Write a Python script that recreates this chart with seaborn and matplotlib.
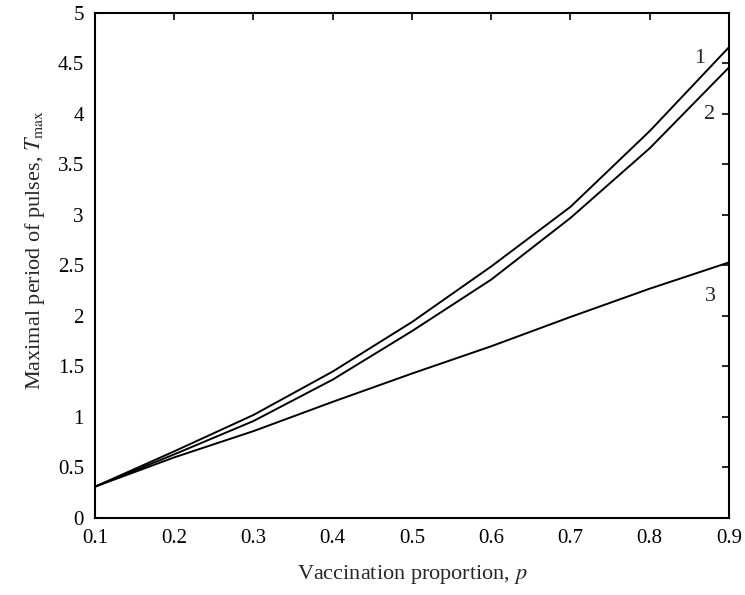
import matplotlib
matplotlib.use("Agg")
import matplotlib.pyplot as plt
import seaborn as sns
import pandas as pd

# Data
p_values = [0.1, 0.2, 0.3, 0.4, 0.5, 0.6, 0.7, 0.8, 0.9]
curve1 = [0.31, 0.66, 1.02, 1.45, 1.94, 2.49, 3.08, 3.83, 4.66]
curve2 = [0.31, 0.63, 0.96, 1.37, 1.85, 2.36, 2.97, 3.66, 4.46]
curve3 = [0.31, 0.60, 0.86, 1.15, 1.43, 1.70, 1.99, 2.27, 2.53]
curve_names = ["1", "2", "3"]
label_pos = [(0.863, 4.55), (0.876, 3.99), (0.876, 2.19)]
x_ticks = [0.1, 0.2, 0.3, 0.4, 0.5, 0.6, 0.7, 0.8, 0.9]
y_ticks = [0, 0.5, 1, 1.5, 2, 2.5, 3, 3.5, 4, 4.5, 5]
y_tick_labels = ["0", "0.5", "1", "1.5", "2", "2.5", "3", "3.5", "4", "4.5", "5"]

df = pd.DataFrame({
    "p": p_values * 3,
    "T": curve1 + curve2 + curve3,
    "curve": sum([[n] * len(p_values) for n in curve_names], []),
})

sns.set_style("white")
plt.rcParams["font.family"] = ["Liberation Serif", "DejaVu Serif"]
plt.rcParams["mathtext.fontset"] = "stix"

fig = plt.figure(figsize=(7.45, 5.95), dpi=100)
ax = fig.add_axes([0.1275, 0.1294, 0.851, 0.849])

sns.lineplot(data=df, x="p", y="T", units="curve", estimator=None,
             color="black", linewidth=1.4, ax=ax, legend=False)

for name, (lx, ly) in zip(curve_names, label_pos):
    ax.text(lx, ly, name, fontsize=16, ha="center", va="center")

ax.set_xlim(0.1, 0.9)
ax.set_ylim(0, 5)
ax.set_xticks(x_ticks)
ax.set_xticklabels([f"{v:.1f}" for v in x_ticks])
ax.set_yticks(y_ticks)
ax.set_yticklabels(y_tick_labels)
ax.tick_params(direction="in", length=5, width=1.2, top=True, right=True,
               labelsize=15, colors="black")
ax.tick_params(axis="y", pad=8)
ax.tick_params(axis="x", pad=8)
for s in ax.spines.values():
    s.set_linewidth(1.5)
    s.set_color("black")

ax.set_xlabel("Vaccination proportion, $p$", fontsize=16)
ax.set_ylabel(r"Maximal period of pulses, $T_{\mathrm{max}}$", fontsize=16)
ax.xaxis.set_label_coords(0.5, -0.09)
ax.yaxis.set_label_coords(-0.075, 0.53)

fig.savefig("out.png", dpi=100)
